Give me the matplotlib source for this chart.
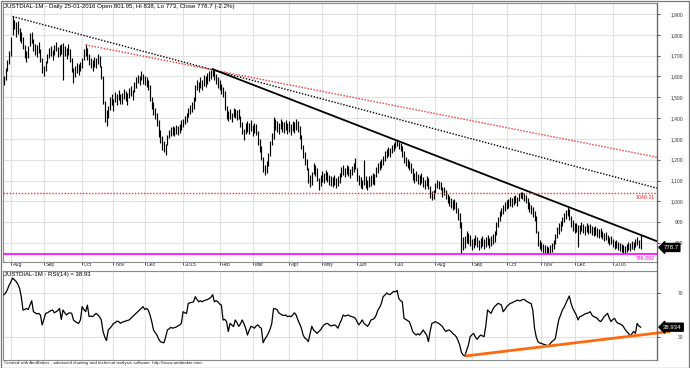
import numpy as np
import pandas as pd
import matplotlib
matplotlib.use("Agg")
import matplotlib.pyplot as plt
import matplotlib.transforms as mtransforms
from matplotlib.lines import Line2D
from matplotlib.patches import Rectangle

plt.rcParams['font.family'] = ['Liberation Sans', 'DejaVu Sans']

# NSE trading holidays inside the chart range
holidays = ['2014-07-29', '2014-08-15', '2014-08-29', '2014-10-02', '2014-10-03',
            '2014-10-06', '2014-10-15', '2014-10-24', '2014-11-04', '2014-11-06',
            '2014-12-25', '2015-01-26', '2015-02-17', '2015-03-06', '2015-04-02',
            '2015-04-03', '2015-04-14', '2015-05-01', '2015-09-17', '2015-09-25',
            '2015-10-02', '2015-10-22', '2015-11-12', '2015-11-25', '2015-12-25']

dates = pd.bdate_range('2014-07-25', '2016-01-25')
dates = dates[~dates.isin(pd.to_datetime(holidays))]

# daily highs / lows, one block per month
highs = (
    [1600, 1640, 1680, 1720] +
    [1790, 1888, 1870, 1860, 1865, 1835, 1815, 1790, 1750, 1720, 1745, 1810, 1815, 1780, 1755, 1750, 1765, 1730, 1690] +
    [1650, 1675, 1710, 1735, 1745, 1725, 1750, 1765, 1740, 1750, 1755, 1760, 1745, 1735, 1755, 1730, 1690, 1640, 1650, 1665, 1660, 1670] +
    [1690, 1730, 1755, 1735, 1710, 1690, 1680, 1695, 1690, 1710, 1700, 1650, 1600, 1480, 1440, 1460, 1500, 1515] +
    [1490, 1525, 1515, 1535, 1515, 1520, 1540, 1530, 1520, 1545, 1555, 1535, 1575, 1595, 1605, 1600, 1625, 1610] +
    [1600, 1595, 1585, 1560, 1500, 1475, 1450, 1425, 1390, 1345, 1315, 1290, 1275, 1320, 1345, 1355, 1360, 1355, 1365, 1360, 1370, 1390] +
    [1395, 1410, 1425, 1450, 1465, 1475, 1500, 1560, 1585, 1575, 1595, 1585, 1605, 1600, 1615, 1625, 1630, 1632, 1630, 1610, 1595] +
    [1585, 1565, 1550, 1530, 1460, 1435, 1445, 1425, 1450, 1445, 1440, 1445, 1410, 1380, 1350, 1375, 1385, 1375, 1390] +
    [1365, 1375, 1370, 1340, 1300, 1265, 1215, 1175, 1195, 1230, 1290, 1330, 1405, 1395, 1385, 1375, 1395, 1385, 1380, 1390, 1375] +
    [1385, 1370, 1385, 1380, 1395, 1385, 1360, 1320, 1270, 1235, 1205, 1160, 1125, 1140, 1185, 1175, 1160, 1110, 1125] +
    [1145, 1135, 1150, 1140, 1125, 1120, 1115, 1125, 1110, 1120, 1135, 1165, 1175, 1160, 1175, 1170, 1155, 1170, 1185, 1210] +
    [1160, 1125, 1115, 1105, 1200, 1120, 1105, 1120, 1125, 1135, 1130, 1165, 1185, 1195, 1205, 1220, 1240, 1250, 1260, 1255, 1270, 1280] +
    [1290, 1295, 1285, 1280, 1265, 1240, 1215, 1205, 1195, 1185, 1160, 1135, 1145, 1130, 1125, 1135, 1115, 1105, 1120, 1110, 1075, 1050, 1055] +
    [1090, 1105, 1100, 1095, 1070, 1070, 1055, 1035, 1025, 1015, 1005, 1010, 995, 970, 945, 900, 830, 835, 860, 850, 840] +
    [820, 825, 840, 830, 815, 825, 835, 820, 830, 840, 825, 835, 845, 860, 900, 925, 955, 970, 985, 995] +
    [1005, 1010, 1020, 1015, 1025, 1030, 1020, 1040, 1045, 1045, 1040, 1030, 1015, 995, 985, 975, 955, 930, 860, 815] +
    [805, 795, 790, 785, 780, 790, 800, 815, 845, 875, 895, 905, 925, 945, 960, 975, 965, 930, 910] +
    [895, 895, 885, 885, 900, 890, 880, 895, 885, 890, 880, 875, 880, 870, 865, 870, 860, 850, 855, 840, 830, 835] +
    [820, 810, 815, 805, 800, 795, 790, 785, 795, 805, 800, 810, 805, 820, 830, 815, 838]
)
lows = (
    [1560, 1585, 1625, 1660] +
    [1700, 1800, 1830, 1790, 1805, 1770, 1760, 1730, 1690, 1670, 1690, 1745, 1760, 1720, 1705, 1695, 1715, 1670, 1615] +
    [1600, 1625, 1665, 1690, 1700, 1680, 1705, 1720, 1695, 1700, 1710, 1585, 1700, 1685, 1705, 1670, 1620, 1570, 1595, 1615, 1605, 1625] +
    [1640, 1680, 1700, 1680, 1655, 1640, 1625, 1645, 1640, 1660, 1645, 1590, 1470, 1380, 1360, 1400, 1440, 1465] +
    [1435, 1475, 1465, 1485, 1470, 1470, 1490, 1480, 1465, 1495, 1505, 1485, 1525, 1545, 1570, 1560, 1585, 1565] +
    [1560, 1550, 1535, 1480, 1445, 1415, 1395, 1360, 1310, 1280, 1245, 1235, 1222, 1270, 1305, 1315, 1320, 1315, 1325, 1320, 1330, 1345] +
    [1355, 1370, 1380, 1405, 1420, 1430, 1445, 1480, 1535, 1525, 1545, 1535, 1555, 1550, 1565, 1580, 1590, 1600, 1585, 1565, 1545] +
    [1535, 1515, 1500, 1440, 1395, 1385, 1395, 1380, 1405, 1400, 1390, 1395, 1355, 1325, 1295, 1325, 1335, 1325, 1340] +
    [1315, 1330, 1320, 1270, 1235, 1200, 1140, 1125, 1135, 1170, 1220, 1270, 1300, 1345, 1335, 1325, 1350, 1335, 1330, 1345, 1325] +
    [1335, 1320, 1340, 1330, 1345, 1335, 1300, 1250, 1210, 1175, 1150, 1090, 1070, 1080, 1130, 1120, 1100, 1055, 1075] +
    [1095, 1090, 1105, 1095, 1080, 1075, 1070, 1080, 1065, 1075, 1090, 1115, 1125, 1115, 1130, 1120, 1110, 1125, 1140, 1155] +
    [1100, 1080, 1065, 1060, 1080, 1065, 1055, 1070, 1075, 1085, 1080, 1115, 1135, 1150, 1160, 1175, 1195, 1210, 1220, 1215, 1230, 1240] +
    [1255, 1265, 1250, 1240, 1215, 1185, 1170, 1160, 1150, 1135, 1105, 1090, 1100, 1085, 1080, 1090, 1070, 1060, 1075, 1060, 1015, 1005, 1010] +
    [1040, 1065, 1060, 1055, 1020, 1030, 1010, 990, 980, 970, 960, 965, 945, 910, 870, 752, 765, 775, 800, 795, 785] +
    [765, 775, 790, 780, 765, 775, 785, 770, 780, 790, 775, 785, 795, 805, 840, 875, 905, 930, 940, 955] +
    [965, 970, 980, 975, 985, 990, 980, 1000, 1015, 1010, 1000, 990, 965, 950, 940, 925, 905, 850, 785, 770] +
    [760, 750, 748, 750, 746.882, 750, 755, 770, 795, 825, 845, 860, 880, 900, 915, 930, 910, 875, 860] +
    [850, 855, 780, 845, 860, 850, 840, 855, 845, 850, 840, 835, 840, 830, 825, 830, 820, 810, 815, 800, 790, 795] +
    [780, 770, 775, 765, 760, 755, 752, 750, 755, 765, 760, 770, 765, 780, 790, 775, 773]
)
last_open, last_close, last_change = 801.95, 778.7, -2.2

rsi = (
    [68.5, 70, 73, 77] +
    [80, 83.6, 82, 80.6, 78, 74.5, 66.7, 54.5, 55, 56, 55, 59, 63, 53, 52, 51, 51.5, 50, 41] +
    [46, 51.5, 52, 53, 54, 54.5, 52, 53, 54, 56, 46, 54.5, 52, 50, 51.5, 52, 51.5, 45.5, 44, 43, 42.4, 45.5] +
    [57.6, 55, 53, 59, 48.5, 49, 48.5, 50, 51.5, 50, 48.5, 45.5, 35, 30, 26.8, 36.4, 38, 40] +
    [42.4, 43, 44.5, 44, 42.4, 43.5, 44, 44.5, 45, 45.5, 47, 48.5, 50, 51.5, 53, 54.5, 56, 57.6] +
    [55, 56, 54.5, 50, 44, 36.4, 34, 31.8, 28, 25.8, 25, 24.8, 30, 36.4, 37.5, 38.8, 38, 38.5, 39, 40, 41, 42.4] +
    [53, 52, 51.5, 60.6, 61, 61.5, 62, 66.7, 64, 62, 63, 62, 63, 63.6, 64, 65, 66, 68.5, 62, 63, 62] +
    [60, 59, 45.5, 46, 44, 35, 42.4, 41, 39.5, 45.5, 43, 39.7, 42, 45.5, 42, 38, 31.8, 36, 39.7] +
    [39, 38, 40, 41, 39, 38, 24.8, 28, 30.3, 33.3, 37, 42.4, 56, 55.5, 55, 52, 51, 50, 49.5, 50, 48.5] +
    [49, 48.5, 50, 52, 50, 45.5, 42, 38, 31.8, 29, 28, 25.8, 33, 39.7, 36.4, 35, 33.3, 35, 36.4] +
    [39, 41, 42, 42.4, 41, 40, 40.5, 41, 40, 38, 42, 45.5, 50, 49, 49.5, 50, 49, 48.5, 48, 47] +
    [44, 41, 43, 45.5, 42.4, 41, 39.7, 42, 45.5, 46, 47, 50, 54.5, 57, 60.6, 66.7, 68, 70, 69, 68.5, 70, 71.5] +
    [71, 72.4, 65, 63, 62, 47, 46, 45, 44, 40, 35, 33, 31.8, 33, 31.8, 34, 36.4, 34, 31.8, 25.8, 35, 42.4, 43] +
    [44, 43, 42.4, 41, 39.7, 37, 35, 36, 36.4, 35, 33.3, 32, 30.3, 27, 22.7, 16, 13.6, 12.7, 18, 22.7, 30.3] +
    [32, 33.3, 30, 27.9, 30, 31.8, 31, 30.3, 40, 54.5, 53, 51.5, 55, 57.6, 59, 60.6, 60, 59, 53, 55] +
    [57.6, 59, 60.6, 61, 62, 62.5, 63.6, 63, 63, 64, 64.2, 63, 62, 61, 60.6, 54.5, 38, 30, 25.8, 24.5] +
    [24.2, 23.5, 23, 22.5, 21.8, 24, 25.8, 27, 28.8, 38, 46, 50, 54.5, 57, 60.6, 64, 67.3, 60.6, 56] +
    [53, 50, 45.5, 48.5, 49, 50, 51, 51.5, 52, 53, 50, 48.5, 48, 47, 45, 44, 46, 48.5, 50, 51.5, 47, 44] +
    [46, 47, 44, 42.4, 42, 41, 39.7, 37, 35, 33.3, 31, 33, 35, 33.3, 42.4, 40, 38.934]
)

# drawn trendlines: two anchor points each (date, value)
trend_black_dotted = [('2014-08-04', 1888), ('2015-01-27', 1632)]
trend_red_dotted = [('2014-10-08', 1752), ('2015-01-27', 1632)]
trend_black_solid = [('2015-01-27', 1635), ('2015-07-02', 1292)]
rsi_trend = [('2015-08-26', 12.7), ('2015-11-06', 21.8)]
level_red = 1040.21
level_magenta = 746.882

n = len(dates)
assert len(highs) == n and len(lows) == n and len(rsi) == n, (n, len(highs), len(lows), len(rsi))
idx = np.arange(n)
pos = {d.strftime('%Y-%m-%d'): i for i, d in enumerate(dates)}

# month starts for the date axis
month_idx, month_lbl = [], []
for i in range(1, n):
    if dates[i].month != dates[i - 1].month:
        month_idx.append(i)
        month_lbl.append(str(dates[i].year) if dates[i].month == 1 else dates[i].strftime('%b'))

W, H = 690, 368
fig = plt.figure(figsize=(W / 100, H / 100), dpi=100)


def box(x0, y0, x1, y1):
    return [x0 / W, 1 - y1 / H, (x1 - x0) / W, (y1 - y0) / H]


ax = fig.add_axes(box(3, 3, 657, 262))
ax2 = fig.add_axes(box(3, 271, 657, 360))
x_right = 375.4
grid_c = '#e2e2e2'
spine_c = '#8a8a8a'
small = 3.8

# price bars
ax.vlines(idx, lows, highs, color='black', lw=0.85, zorder=3)


def extend(anchors, x_end):
    (d0, v0), (d1, v1) = anchors
    i0, i1 = pos[d0], pos[d1]
    slope = (v1 - v0) / (i1 - i0)
    return [i0, x_end], [v0, v0 + slope * (x_end - i0)]


xs, ys = extend(trend_black_dotted, x_right)
ax.plot(xs, ys, color='black', lw=1.0, ls=(0, (1, 1.2)), zorder=4)
xs, ys = extend(trend_red_dotted, x_right)
ax.plot(xs, ys, color='#ff3030', lw=1.0, ls=(0, (1, 1.2)), zorder=4)
xs, ys = extend(trend_black_solid, x_right)
ax.plot(xs, ys, color='black', lw=1.3, zorder=4)
ax.axhline(level_red, color='#ff3030', lw=1.0, ls=(0, (1, 1.2)), zorder=4)
ax.axhline(level_magenta, color='#ff00ff', lw=1.2, zorder=4)

ax.set_xlim(-0.5, x_right)
ax.set_ylim(708.9, 1952.8)
ax.set_yticks(np.arange(800, 2000, 100))
ax.set_yticklabels([f'{v:,}' for v in range(800, 2000, 100)])
ax.set_xticks(month_idx)
ax.set_xticklabels(month_lbl)
ax.yaxis.tick_right()
ax.grid(True, color=grid_c, lw=0.8, zorder=0)
ax.set_axisbelow(True)
ax.tick_params(axis='y', direction='out', length=2, width=0.6, colors='#333333',
               labelsize=3.6, pad=16.8)
ax.tick_params(axis='x', direction='out', length=2.2, width=0.6, colors='#333333',
               labelsize=small, pad=-2.2)
for lbl in ax.get_yticklabels():
    lbl.set_horizontalalignment('right')
shift = mtransforms.ScaledTranslation(1.2 / 72, 0, fig.dpi_scale_trans)
for lbl in ax.get_xticklabels():
    lbl.set_horizontalalignment('left')
    lbl.set_transform(lbl.get_transform() + shift)
for s in ax.spines.values():
    s.set_color(spine_c)
    s.set_linewidth(0.8)

title = (f"JUSTDIAL-1M - Daily {dates[-1].strftime('%d-%m-%Y')} Open {last_open}, "
         f"Hi {highs[-1]}, Lo {lows[-1]}, Close {last_close} ({last_change}%)")
ax.text(0.002, 0.996, title, transform=ax.transAxes, ha='left', va='top',
        fontsize=4.4, color='black', zorder=6)

trans = mtransforms.blended_transform_factory(ax.transAxes, ax.transData)
ax.annotate(f'{level_red}', xy=(1, level_red), xycoords=trans, xytext=(-1.5, -1.2),
            textcoords='offset points', ha='right', va='top', fontsize=small,
            color='#ff2020', annotation_clip=False, zorder=6)
ax.annotate(f'{level_magenta}', xy=(1, level_magenta), xycoords=trans, xytext=(-1.5, -1.2),
            textcoords='offset points', ha='right', va='top', fontsize=small,
            color='#ff00ff', annotation_clip=False, zorder=6)
ax.annotate(f'{last_close}', xy=(1, last_close), xycoords=trans, xytext=(4.5, 0),
            textcoords='offset points', ha='left', va='center', fontsize=4.3,
            color='white', annotation_clip=False, zorder=7,
            bbox=dict(boxstyle='larrow,pad=0.25', fc='black', ec='black'))

# RSI pane
ax2.plot(idx, rsi, color='black', lw=0.9, zorder=3)
xs, ys = extend(rsi_trend, 383)
ax2.plot(xs, ys, color='#ff6a10', lw=2.0, solid_capstyle='butt', clip_on=False, zorder=5)
ax2.set_xlim(-0.5, x_right)
ax2.set_ylim(9.1, 90)
ax2.set_yticks([30, 70])
ax2.set_xticks(month_idx)
ax2.yaxis.tick_right()
ax2.grid(True, color=grid_c, lw=0.8, zorder=0)
ax2.set_axisbelow(True)
ax2.tick_params(axis='y', direction='out', length=2, width=0.6, colors='#333333',
                labelsize=3.6, pad=16.8)
ax2.tick_params(axis='x', length=0, labelbottom=False)
for lbl in ax2.get_yticklabels():
    lbl.set_horizontalalignment('right')
for s in ax2.spines.values():
    s.set_color(spine_c)
    s.set_linewidth(0.8)
ax2.text(0.002, 0.985, f'JUSTDIAL-1M - RSI(14) = {rsi[-1]:.2f}', transform=ax2.transAxes,
         ha='left', va='top', fontsize=4.3, color='black', zorder=6)
trans2 = mtransforms.blended_transform_factory(ax2.transAxes, ax2.transData)
ax2.annotate(f'{rsi[-1]:.3f}', xy=(1, rsi[-1]), xycoords=trans2, xytext=(4.5, 0),
             textcoords='offset points', ha='left', va='center', fontsize=4.3,
             color='white', annotation_clip=False, zorder=7,
             bbox=dict(boxstyle='larrow,pad=0.25', fc='black', ec='black'))

fig.text(4 / W, 1 - 363 / H,
         'Created with AmiBroker - advanced charting and technical analysis software. http://www.amibroker.com',
         fontsize=3.2, ha='left', va='center', color='#222222')

# frame lines
fig.add_artist(Line2D([657 / W, 657 / W], [1 - 3 / H, 1 - 360 / H], color='#666666', lw=0.9))
fig.add_artist(Rectangle((0.5 / W, 0.5 / H), (W - 1.5) / W, (H - 1.5) / H, fill=False,
                         ec='#777777', lw=0.9, transform=fig.transFigure))

fig.savefig('out.png', dpi=100)
